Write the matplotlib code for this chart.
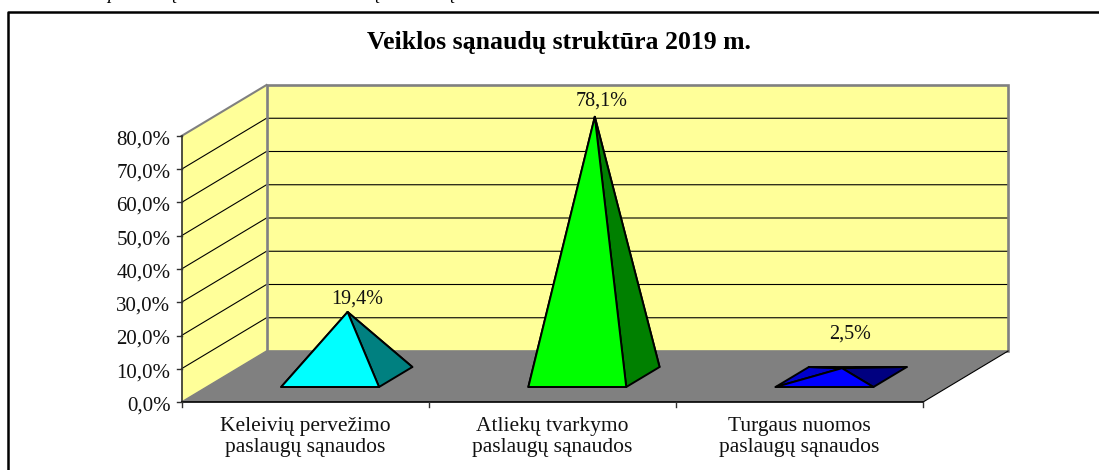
# pyramid chart, redrawn by hand because the original has a fake 3D look
import numpy as np
import matplotlib.pyplot as plt
from matplotlib.lines import Line2D
from matplotlib.patches import Polygon

plt.rcParams['font.family'] = ['Liberation Serif', 'DejaVu Serif']

categories = ['Keleivių pervežimo\npaslaugų sąnaudos',
              'Atliekų tvarkymo\npaslaugų sąnaudos',
              'Turgaus nuomos\npaslaugų sąnaudos']
values = [19.4, 78.1, 2.5]
y_ticks = [0, 10, 20, 30, 40, 50, 60, 70, 80]
title = 'Veiklos sąnaudų struktūra 2019 m.'

front_colors = ['#00FFFF', '#00FF00', '#0000FF']
side_colors = ['#008080', '#008000', '#000080']
left_colors = ['#00C0C0', '#00C000', '#0000CC']

W, H = 1099, 470
X0, X_UNIT = 181.5, 247.2   # pixel of category 0 edge, pixels per category
Y0, Y_UNIT = 402.0, 3.325   # pixel of 0 %, pixels per percent
DEPTH_X = 85.0 / X_UNIT     # full depth of the box in data units
DEPTH_Y = 51.0 / Y_UNIT
YMAX = y_ticks[-1]
XMAX = len(categories)


def proj(x, y, d):
    # d goes from 0 (front) to 1 (back wall)
    return (x + d * DEPTH_X, y + d * DEPTH_Y)


fig = plt.figure(figsize=(W / 100, H / 100), dpi=100)
ax = fig.add_axes([0, 0, 1, 1])
ax.set_xlim(-X0 / X_UNIT, (W - X0) / X_UNIT)
ax.set_ylim((Y0 - H) / Y_UNIT, Y0 / Y_UNIT)
ax.axis('off')

# outer frame, only top and left are in the crop
fig.add_artist(Line2D([7.5 / W, 7.5 / W, 1], [0, 1 - 11.5 / H, 1 - 11.5 / H],
                      color='black', lw=1.8))

# walls and floor
side = [proj(0, 0, 0), proj(0, 0, 1), proj(0, YMAX, 1), proj(0, YMAX, 0)]
back = [proj(0, 0, 1), proj(XMAX, 0, 1), proj(XMAX, YMAX, 1), proj(0, YMAX, 1)]
floor = [proj(0, 0, 0), proj(XMAX, 0, 0), proj(XMAX, 0, 1), proj(0, 0, 1)]
ax.add_patch(Polygon(side, fc='#FFFF99', ec='none', zorder=1))
ax.add_patch(Polygon(back, fc='#FFFF99', ec='none', zorder=1))
ax.add_patch(Polygon(floor, fc='#808080', ec='none', zorder=1))

for v in y_ticks[1:-1]:
    pts = [proj(0, v, 0), proj(0, v, 1), proj(XMAX, v, 1)]
    ax.plot(*zip(*pts), color='black', lw=0.8, zorder=2)

# grey wall edges
ax.add_patch(Polygon(back, fc='none', ec='#808080', lw=1.9, zorder=3))
ax.plot(*zip(proj(0, YMAX, 0), proj(0, YMAX, 1)), color='#808080', lw=1.5, zorder=3)
ax.plot(*zip(proj(0, 0, 0), proj(0, 0, 1)), color='#808080', lw=1.0, zorder=3)

# front axes
ax.plot([0, 0], [0, YMAX], color='#303030', lw=1.2, zorder=4)
ax.plot([0, XMAX], [0, 0], color='black', lw=1.2, zorder=4)
ax.plot(*zip(proj(XMAX, 0, 0), proj(XMAX, 0, 1)), color='black', lw=0.8, zorder=4)

for v in y_ticks:
    ax.plot([-5 / X_UNIT, 0], [v, v], color='#303030', lw=1.0, zorder=4)
    ax.text(-11 / X_UNIT, v - 1.2, f'{v:.1f}%'.replace('.', ','), ha='right',
            va='center', fontsize=15, color='#111111')
for i in range(XMAX + 1):
    ax.plot([i, i], [0, -5 / Y_UNIT], color='#303030', lw=1.0, zorder=4)

# pyramids, back faces first so the flat one still shows them
HALF_W = 0.198
D_FRONT, D_BACK = 0.294, 0.686
label_up = [14, 17, 35]     # px above the tip
label_right = [10, 7, 8]
for i, val in enumerate(values):
    c = i + 0.5
    fl = proj(c - HALF_W, 0, D_FRONT)
    fr = proj(c + HALF_W, 0, D_FRONT)
    bl = proj(c - HALF_W, 0, D_BACK)
    br = proj(c + HALF_W, 0, D_BACK)
    tip = proj(c, val, 0.5)
    faces = [([fl, bl, tip], left_colors[i]), ([bl, br, tip], side_colors[i]),
             ([fr, br, tip], side_colors[i]), ([fl, fr, tip], front_colors[i])]
    for pts, col in faces:
        ax.add_patch(Polygon(pts, fc=col, ec='black', lw=1.4, joinstyle='round', zorder=5))
    ax.text(tip[0] + label_right[i] / X_UNIT, tip[1] + (label_up[i] - 1) / Y_UNIT,
            f'{val:.1f}%'.replace('.', ','), ha='center', va='center',
            fontsize=14.5, color='#111111', zorder=6)

    ax.text(i + 0.5, -35 / Y_UNIT, categories[i], ha='center', va='center',
            fontsize=15.5, linespacing=1.08, color='#111111')

ax.text(558.5 / W, 1 - 43 / H, title, transform=fig.transFigure, ha='center', va='center',
        fontsize=18.5, fontweight='bold', color='black')

# tails of the line of text cut off above the chart
for letter, px in zip('pųųų', [112, 172, 375, 450]):
    fig.text(px / W, 1 + 1 / H, letter, ha='center', va='baseline',
             fontsize=14, fontstyle='italic', color='black')

plt.savefig('out.png', dpi=100)
